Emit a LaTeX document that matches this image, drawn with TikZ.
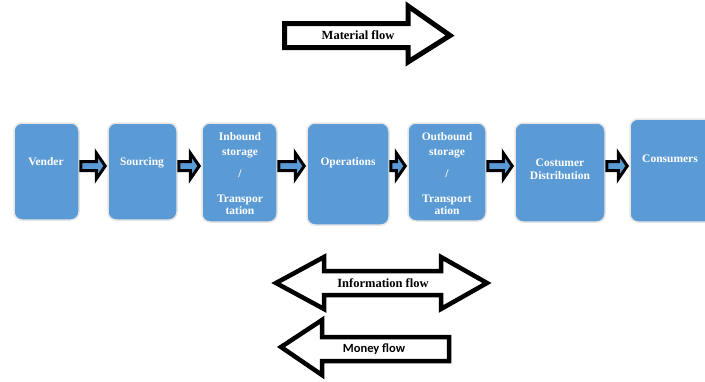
\documentclass[tikz,border=0pt]{standalone}
\usepackage{fontspec}
\setmainfont{Liberation Serif}
\newfontfamily\carlito{Carlito}
\usetikzlibrary{calc}
\definecolor{boxblue}{RGB}{91,155,213}
\begin{document}
\begin{tikzpicture}[x=1pt,y=-1pt,
 box/.style={rectangle, rounded corners=8pt, fill=boxblue, draw=black!10, line width=1.5pt, inner sep=0pt},
 lbl/.style={text=white, font=\bfseries\fontsize{11.5}{13}\selectfont, align=center, inner sep=0pt},
 smallarr/.style={draw=black, fill=boxblue, line width=3pt, miter limit=10},
 bigarr/.style={draw=black, fill=white, line width=4.5pt, miter limit=10},
 flowtxt/.style={font=\bfseries\fontsize{12.5}{14}\selectfont, inner sep=0pt}
 ]
\useasboundingbox[fill=white] (0,0) rectangle (705,381);

% boxes
\node[box, minimum width=65pt, minimum height=97pt] (vender) at (46.5,171.5) {};
\node[box, minimum width=69pt, minimum height=97pt] (sourcing) at (142.5,171.5) {};
\node[box, minimum width=75pt, minimum height=99pt] (inbound) at (239.5,172.5) {};
\node[box, minimum width=82pt, minimum height=102pt] (operations) at (348,174) {};
\node[box, minimum width=78pt, minimum height=98pt] (outbound) at (447,172) {};
\node[box, minimum width=90pt, minimum height=99pt] (costumer) at (560,172.5) {};
\node[box, minimum width=85pt, minimum height=103pt] (consumers) at (672.5,170.5) {};

% labels
\node[lbl] (venderlbl) at (46,161.4) {Vender};
\node[lbl] (sourcinglbl) at (142,162.5) {Sourcing};
\node[lbl, anchor=north] (inboundlbl) at (240,132.5) {Inbound\\[2pt]storage\\[9pt]/\\[12pt]Transpor\\[-1pt]tation};
\node[lbl] (operationslbl) at (348,162.5) {Operations};
\node[lbl, anchor=north] (outboundlbl) at (447,132.5) {Outbound\\[2pt]storage\\[9pt]/\\[12pt]Transport\\[-1pt]ation};
\node[lbl] (costumerlbl) at (560,169) {Costumer\\Distribution};
\node[lbl] (consumerslbl) at (670,159) {Consumers};

% small block arrows between boxes
\foreach \a/\b in {vender/sourcing, sourcing/inbound, inbound/operations, operations/outbound, outbound/costumer, costumer/consumers}{
  \draw[smallarr] let \p1=(\a.east), \p2=(\b.west) in
    ({\x1+1pt},-161.5pt) -- ({\x2-11pt},-161.5pt) -- ({\x2-11pt},-153pt) -- ({\x2-2pt},-166pt)
    -- ({\x2-11pt},-179pt) -- ({\x2-11pt},-170.5pt) -- ({\x1+1pt},-170.5pt) -- cycle;
}

% material flow
\draw[bigarr, line width=5pt] (284.5,23.5) -- (408,23.5) -- (408,6) -- (450,35.5) -- (408,62) -- (408,47.5) -- (284.5,47.5) -- cycle;
\node[flowtxt] (materiallbl) at (358,35) {Material flow};

% information flow
\draw[bigarr] (276,283) -- (324,257) -- (324,271) -- (441,271) -- (441,257) -- (487,283) -- (441,309) -- (441,295) -- (324,295) -- (324,309) -- cycle;
\node[flowtxt] (infolbl) at (383,283) {Information flow};

% money flow
\draw[bigarr] (281,347) -- (322,320) -- (322,337) -- (449,337) -- (449,361) -- (322,361) -- (322,375) -- cycle;
\node[inner sep=0pt, font=\carlito\bfseries\fontsize{12.5}{14}\selectfont] (moneylbl) at (374,349) {Money flow};
\end{tikzpicture}
\end{document}
